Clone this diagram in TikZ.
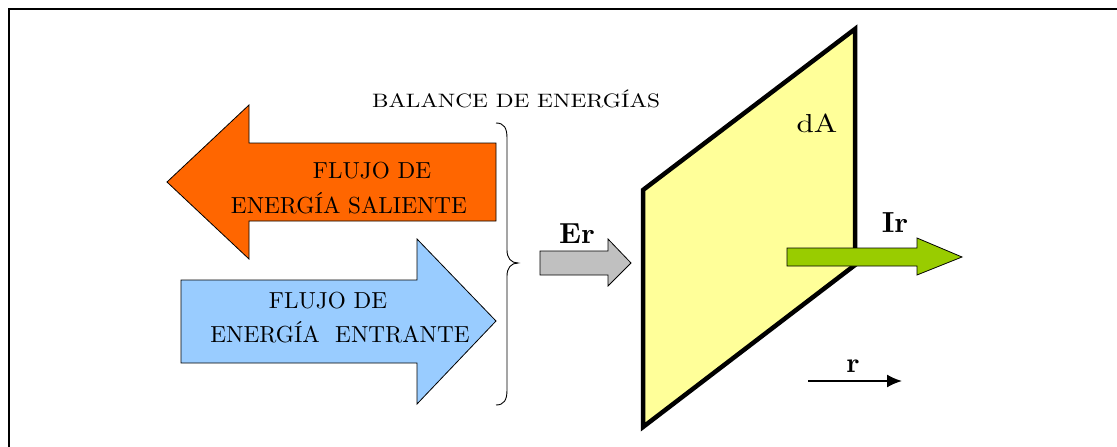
\documentclass[tikz,border=0pt]{standalone}
\usepackage{fontspec}
\setmainfont{lmroman10-regular}[Extension=.otf, BoldFont=lmroman10-bold, ItalicFont=lmroman10-italic]
\usetikzlibrary{arrows.meta}
\begin{document}
\begin{tikzpicture}[x=1pt,y=-1pt,
  fat/.style={draw=black,line width=0.8pt,line join=miter},
  lbl/.style={inner sep=0pt,anchor=base,font=\fontsize{23.2}{28}\selectfont},
  sym/.style={inner sep=0pt,anchor=base,font=\fontsize{29}{32}\selectfont\bfseries}]
\useasboundingbox (0,0) rectangle (1117,447);
% frame
\draw[line width=1.8pt] (9,447) -- (9,9) -- (1117,9);
% orange arrow (outgoing)
\draw[fat,fill={rgb,255:red,255;green,102;blue,0}]
  (496,143) -- (249,143) -- (249,105) -- (167,182) -- (249,259) -- (249,221) -- (496,221) -- cycle;
% blue arrow (incoming)
\draw[fat,fill={rgb,255:red,153;green,204;blue,255}]
  (181,280) -- (417,280) -- (417,239) -- (496,321) -- (417,404) -- (417,363) -- (181,363) -- cycle;
\node[lbl] (sal1) at (372,178) {FLUJO DE};
\node[lbl] (sal2) at (349,213) {ENERGÍA SALIENTE};
\node[lbl] (ent1) at (328,308) {FLUJO DE};
\node[lbl] (ent2) at (340,342) {ENERGÍA\ \ ENTRANTE};
\node[inner sep=0pt,anchor=base,font=\fontsize{19.4}{24}\selectfont\addfontfeatures{FakeStretch=1.2}] (bal) at (516,107) {BALANCE DE ENERGÍAS};
% brace
\draw[line width=0.9pt] (496,123) .. controls (504,123) and (507,128) .. (507,138)
  -- (507,250) .. controls (507,258) and (511,263) .. (518,263)
  .. controls (511,263) and (507,268) .. (507,276)
  -- (507,390) .. controls (507,400) and (504,405) .. (496,405);
% gray arrow
\draw[fat,fill={rgb,255:red,192;green,192;blue,192}]
  (540,251) -- (608,251) -- (608,239) -- (631,263) -- (608,286) -- (608,275) -- (540,275) -- cycle;
\node[sym] (er) at (577,243) {Er};
% plane
\draw[line width=4.5pt,line join=miter,fill={rgb,255:red,255;green,255;blue,153}]
  (643,190) -- (855,29) -- (855,265) -- (643,427) -- cycle;
\node[inner sep=0pt,anchor=base,font=\fontsize{26}{28}\selectfont\addfontfeatures{FakeStretch=1.2}] (da) at (817,132) {dA};
% green arrow
\draw[fat,fill={rgb,255:red,153;green,204;blue,0}]
  (787,248) -- (917,248) -- (917,238) -- (962,257) -- (917,275) -- (917,266) -- (787,266) -- cycle;
\node[sym] (ir) at (895,232) {Ir};
% r arrow
\node[sym,font=\fontsize{28}{30}\selectfont\bfseries] (r) at (853,372) {r};
\coordinate (ra) at (808,381);
\coordinate (rb) at (902,381);
\draw[line width=1.8pt,-{Latex[length=15pt,width=13pt]}] (ra) -- (rb);
\end{tikzpicture}
\end{document}
